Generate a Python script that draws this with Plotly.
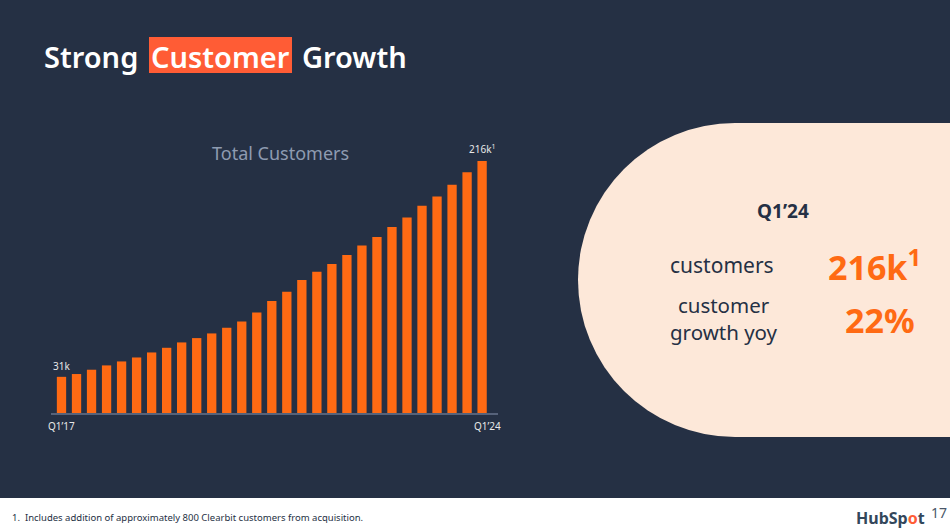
import plotly.graph_objects as go

# quarterly total customers, thousands
quarters = ["Q1’17", "Q2’17", "Q3’17", "Q4’17",
            "Q1’18", "Q2’18", "Q3’18", "Q4’18",
            "Q1’19", "Q2’19", "Q3’19", "Q4’19",
            "Q1’20", "Q2’20", "Q3’20", "Q4’20",
            "Q1’21", "Q2’21", "Q3’21", "Q4’21",
            "Q1’22", "Q2’22", "Q3’22", "Q4’22",
            "Q1’23", "Q2’23", "Q3’23", "Q4’23",
            "Q1’24"]
customers_k = [31.0, 33.4, 37.1, 40.8,
               44.2, 47.6, 51.9, 55.9,
               60.5, 64.2, 68.2, 73.0,
               78.5, 86.2, 95.9, 103.9,
               114.1, 121.0, 127.8, 135.5,
               143.5, 150.9, 159.5, 167.5,
               177.7, 185.5, 195.7, 206.3,
               216.0]

stat_period = "Q1’24"
stat_customers = "216k"
stat_growth = "22%"
footnote = "1.  Includes addition of approximately 800 Clearbit customers from acquisition."
page_no = "17"

NAVY = "#253044"
ORANGE = "#FF6A13"
CREAM = "#FDE8D9"
RED = "#FF5C35"
FONT = "Noto Sans"

W, H = 950, 532


def px(x):
    return x / W


def py(y):
    return 1 - y / H


fig = go.Figure()
fig.add_trace(go.Bar(x=quarters, y=customers_k, marker_color=ORANGE,
                     marker_line_width=0, hoverinfo="skip"))

fig.update_layout(
    width=W, height=H,
    margin=dict(l=0, r=0, t=0, b=0),
    paper_bgcolor=NAVY, plot_bgcolor="rgba(0,0,0,0)",
    bargap=0.38, showlegend=False,
    font=dict(family=FONT, color="white"),
    xaxis=dict(domain=[px(51), px(497.6)], showticklabels=False, showgrid=False,
               zeroline=False, showline=True, linecolor="#56627A", linewidth=1.5,
               ticks="", fixedrange=True),
    yaxis=dict(domain=[py(413), py(133)], range=[0, 240], visible=False),
)

shapes = [
    # cream stadium on the right
    dict(type="circle", xref="paper", yref="paper", x0=px(578), x1=px(892),
         y0=py(437), y1=py(123), fillcolor=CREAM, line_width=0, layer="below"),
    dict(type="rect", xref="paper", yref="paper", x0=px(735), x1=1,
         y0=py(437), y1=py(123), fillcolor=CREAM, line_width=0, layer="below"),
    # white footer strip
    dict(type="rect", xref="paper", yref="paper", x0=0, x1=1,
         y0=0, y1=py(498), fillcolor="white", line_width=0, layer="below"),
    # highlight behind "Customer"
    dict(type="rect", xref="paper", yref="paper", x0=px(149), x1=px(292),
         y0=py(73), y1=py(37), fillcolor=RED, line_width=0, layer="below"),
]
fig.update_layout(shapes=shapes)


def note(text, x, y, size, color, xanchor="left", weight="normal", yanchor="middle"):
    fig.add_annotation(text=text, x=px(x), y=py(y), xref="paper", yref="paper",
                       xanchor=xanchor, yanchor=yanchor, showarrow=False,
                       font=dict(family=FONT, size=size, color=color, weight=weight))


# headline
note("Strong", 42, 56, 29, "white", weight=600)
note("Customer", 220.5, 56, 29, "white", xanchor="center", weight=600)
note("Growth", 300, 56, 29, "white", weight=600)

# chart title
note("Total Customers", 280, 153, 18, "#8E9BB1", xanchor="center")

# first / last bar labels
fig.add_annotation(x=quarters[0], y=customers_k[0], xref="x", yref="y",
                   text=f"{customers_k[0]:.0f}k", showarrow=False, yanchor="bottom",
                   yshift=2, font=dict(size=10, color="#E8E8E8"))
fig.add_annotation(x=quarters[-1], y=customers_k[-1], xref="x", yref="y",
                   text=f"{customers_k[-1]:.0f}k<sup>1</sup>", showarrow=False,
                   yanchor="bottom", yshift=3, font=dict(size=10, color="#E8E8E8"))
# axis end labels
note(quarters[0], 46, 426, 10, "#E8E8E8")
note(quarters[-1], 503, 426, 10, "#E8E8E8", xanchor="right")

# right-hand panel
note(stat_period, 783, 211, 19, NAVY, xanchor="center", weight="bold")
note("customers", 722, 265, 21, NAVY, xanchor="center")
note(stat_customers + "<sup>1</sup>", 826, 265, 34, ORANGE, weight="bold")
note("customer<br>growth yoy", 724, 318, 20.5, NAVY, xanchor="center")
note(stat_growth, 880, 320, 34, ORANGE, xanchor="center", weight="bold")

# footer
note(footnote, 10, 517, 9.5, NAVY)
note("HubSp<span style='color:#FF5C35'>o</span>t", 927, 518, 16, "#33475B",
     xanchor="right", weight="bold")
note(page_no, 929, 512, 14, "#4A5668")

# page body margin would push the slide off its edges
fig.write_html("out.html", config={"displayModeBar": False},
               post_script="document.body.style.margin='0';")
